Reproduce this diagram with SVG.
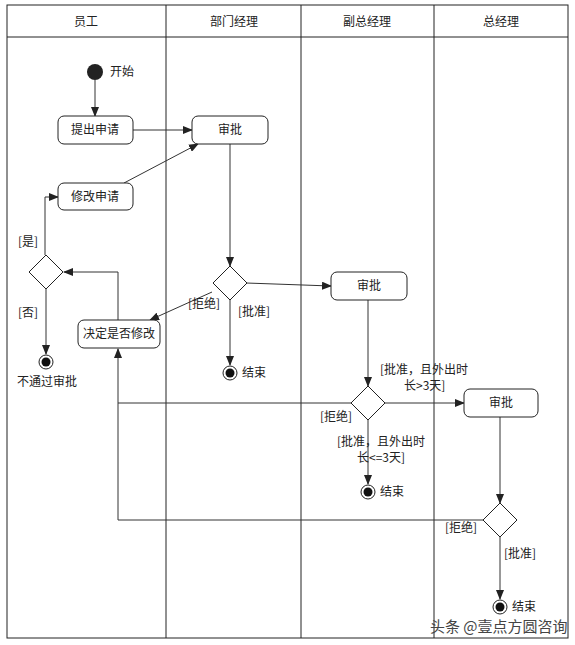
<svg xmlns="http://www.w3.org/2000/svg" width="575" height="645" viewBox="0 0 575 645">
<style>
text{font-family:"Noto Sans CJK SC","Liberation Sans",sans-serif;font-size:12px;fill:#222}
.c{text-anchor:middle}
.box{fill:#fff;stroke:#222;stroke-width:1}
.ln{fill:none;stroke:#333;stroke-width:1;marker-end:url(#a)}
.pl{fill:none;stroke:#333;stroke-width:1}
.lane{stroke:#222;stroke-width:1;fill:none}
</style>
<defs><marker id="a" markerWidth="10" markerHeight="8" refX="9" refY="4" orient="auto" markerUnits="userSpaceOnUse"><path d="M0,0L10,4L0,8z" fill="#222"/></marker></defs>
<rect width="575" height="645" fill="#fff"/>
<g id="lanes">
<rect class="lane" x="7" y="5" width="561" height="633"/>
<line class="lane" x1="7" y1="37" x2="568" y2="37"/>
<line class="lane" x1="166" y1="5" x2="166" y2="638"/>
<line class="lane" x1="301" y1="5" x2="301" y2="638"/>
<line class="lane" x1="434" y1="5" x2="434" y2="638"/>
<text class="c" x="86" y="26">员工</text>
<text class="c" x="234" y="26">部门经理</text>
<text class="c" x="367" y="26">副总经理</text>
<text class="c" x="501" y="26">总经理</text>
</g>
<g id="connectors">
<path class="ln" d="M95,80V116"/>
<path class="ln" d="M133,130H192"/>
<path class="ln" d="M124,183L198,144"/>
<path class="ln" d="M230,144V266"/>
<path class="ln" d="M246,283L331,286"/>
<path class="ln" d="M212,292L150,320"/>
<path class="ln" d="M230,300V365"/>
<path class="ln" d="M118,320V272H64"/>
<path class="ln" d="M45,255V197H58"/>
<path class="ln" d="M46,289V354"/>
<path class="ln" d="M368,300V386"/>
<path class="ln" d="M385,403H464"/>
<path class="ln" d="M351,403H118V349"/>
<path class="ln" d="M368,420V484"/>
<path class="ln" d="M500,417V503"/>
<path class="pl" d="M483,520H118V403"/>
<path class="ln" d="M500,537V599"/>
<text x="188" y="308">[拒绝]</text>
<text x="238" y="316">[批准]</text>
<text x="18" y="246">[是]</text>
<text x="18" y="317">[否]</text>
<text x="380" y="374">[批准，且外出时</text>
<text x="404" y="390">长&gt;3天]</text>
<text x="320" y="421">[拒绝]</text>
<text x="337" y="446">[批准，且外出时</text>
<text x="357" y="462">长&lt;=3天]</text>
<text x="445" y="532">[拒绝]</text>
<text x="504" y="558">[批准]</text>
</g>
<g id="start"><circle cx="95" cy="72" r="8" fill="#222"/><text x="110" y="76">开始</text></g>
<g id="n1"><rect class="box" x="58" y="116" width="75" height="28" rx="6"/><text class="c" x="95" y="134">提出申请</text></g>
<g id="n2"><rect class="box" x="192" y="116" width="76" height="28" rx="6"/><text class="c" x="230" y="134">审批</text></g>
<g id="n3"><rect class="box" x="58" y="183" width="75" height="27" rx="6"/><text class="c" x="95" y="201">修改申请</text></g>
<g id="d1"><path class="box" d="M46,255L63,272L46,289L29,272z"/></g>
<g id="n4"><rect class="box" x="78" y="320" width="82" height="28" rx="6"/><text class="c" x="119" y="338">决定是否修改</text></g>
<g id="e1"><circle cx="46" cy="362" r="7" class="box"/><circle cx="46" cy="362" r="4.5" fill="#111"/><text class="c" x="47" y="386">不通过审批</text></g>
<g id="d2"><path class="box" d="M230,266L247,283L230,300L213,283z"/></g>
<g id="e2"><circle cx="230" cy="373" r="7" class="box"/><circle cx="230" cy="373" r="4.5" fill="#111"/><text x="242" y="377">结束</text></g>
<g id="n5"><rect class="box" x="331" y="272" width="76" height="28" rx="6"/><text class="c" x="369" y="290">审批</text></g>
<g id="d3"><path class="box" d="M368,386L385,403L368,420L351,403z"/></g>
<g id="e3"><circle cx="368" cy="492" r="7" class="box"/><circle cx="368" cy="492" r="4.5" fill="#111"/><text x="380" y="496">结束</text></g>
<g id="n6"><rect class="box" x="464" y="389" width="74" height="28" rx="6"/><text class="c" x="501" y="407">审批</text></g>
<g id="d4"><path class="box" d="M500,503L517,520L500,537L483,520z"/></g>
<g id="e4"><circle cx="500" cy="607" r="7" class="box"/><circle cx="500" cy="607" r="4.5" fill="#111"/><text x="512" y="611">结束</text></g>
<text x="430" y="632" style="font-size:15px;fill:#444">头条 @壹点方圆咨询</text>
</svg>
